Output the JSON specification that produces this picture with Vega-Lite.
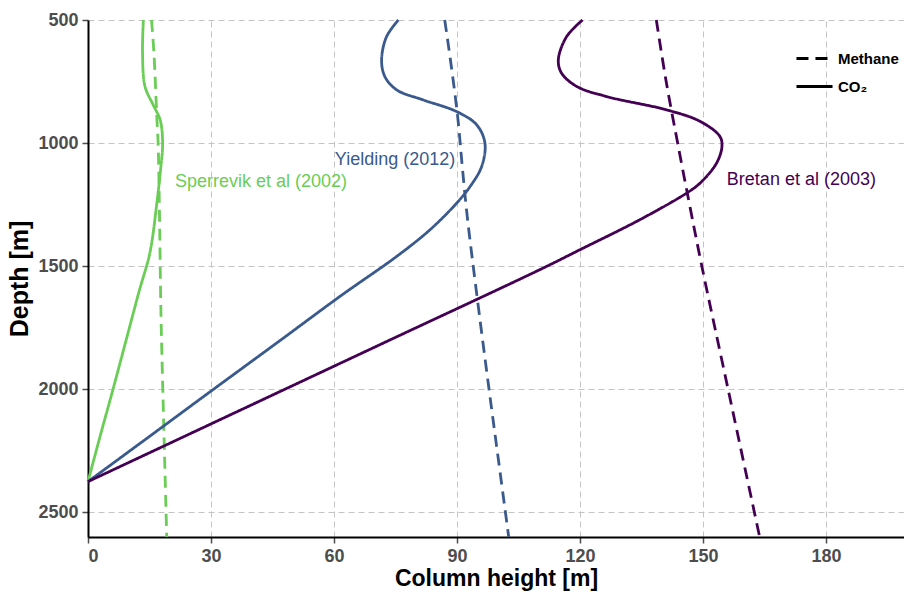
{
  "$schema": "https://vega.github.io/schema/vega-lite/v6.json",
  "width": 816,
  "height": 517,
  "autosize": {"type": "none"},
  "padding": {"left": 88, "top": 20, "right": 0, "bottom": 55},
  "background": "white",
  "config": {
    "font": "Liberation Sans",
    "view": {"stroke": null},
    "axis": {
      "labelFont": "Liberation Sans",
      "labelFontSize": 18,
      "labelFontWeight": "bold",
      "labelColor": "#4d4d4d",
      "titleFont": "Liberation Sans",
      "titleFontSize": 23,
      "titleFontWeight": "bold",
      "titleColor": "black",
      "domainColor": "black",
      "domainWidth": 2,
      "tickColor": "#4d4d4d",
      "tickSize": 6,
      "tickWidth": 1.5,
      "gridColor": "#c4c4c4",
      "gridDash": [6, 4],
      "gridWidth": 1,
      "labelPadding": 4,
      "titlePadding": 6
    }
  },
  "datasets": {
    "curves": [
      {"study": "Sperrevik et al (2002)", "gas": "CO₂", "depth": 500, "height": 13.5},
      {"study": "Sperrevik et al (2002)", "gas": "CO₂", "depth": 634, "height": 13.3},
      {"study": "Sperrevik et al (2002)", "gas": "CO₂", "depth": 770, "height": 13.9},
      {"study": "Sperrevik et al (2002)", "gas": "CO₂", "depth": 845, "height": 15.9},
      {"study": "Sperrevik et al (2002)", "gas": "CO₂", "depth": 906, "height": 17.6},
      {"study": "Sperrevik et al (2002)", "gas": "CO₂", "depth": 1000, "height": 18.2},
      {"study": "Sperrevik et al (2002)", "gas": "CO₂", "depth": 1108, "height": 17.7},
      {"study": "Sperrevik et al (2002)", "gas": "CO₂", "depth": 1242, "height": 16.8},
      {"study": "Sperrevik et al (2002)", "gas": "CO₂", "depth": 1445, "height": 15.1},
      {"study": "Sperrevik et al (2002)", "gas": "CO₂", "depth": 1600, "height": 12.5},
      {"study": "Sperrevik et al (2002)", "gas": "CO₂", "depth": 1800, "height": 9.3},
      {"study": "Sperrevik et al (2002)", "gas": "CO₂", "depth": 2000, "height": 6.1},
      {"study": "Sperrevik et al (2002)", "gas": "CO₂", "depth": 2200, "height": 2.8},
      {"study": "Sperrevik et al (2002)", "gas": "CO₂", "depth": 2375, "height": 0},
      {"study": "Sperrevik et al (2002)", "gas": "Methane", "depth": 500, "height": 15.5},
      {"study": "Sperrevik et al (2002)", "gas": "Methane", "depth": 640, "height": 16.1},
      {"study": "Sperrevik et al (2002)", "gas": "Methane", "depth": 900, "height": 16.8},
      {"study": "Sperrevik et al (2002)", "gas": "Methane", "depth": 1000, "height": 17.1},
      {"study": "Sperrevik et al (2002)", "gas": "Methane", "depth": 1250, "height": 17.4},
      {"study": "Sperrevik et al (2002)", "gas": "Methane", "depth": 1700, "height": 17.8},
      {"study": "Sperrevik et al (2002)", "gas": "Methane", "depth": 2100, "height": 18.4},
      {"study": "Sperrevik et al (2002)", "gas": "Methane", "depth": 2600, "height": 19.2},
      {"study": "Yielding (2012)", "gas": "CO₂", "depth": 500, "height": 75.7},
      {"study": "Yielding (2012)", "gas": "CO₂", "depth": 568, "height": 72.8},
      {"study": "Yielding (2012)", "gas": "CO₂", "depth": 662, "height": 71.6},
      {"study": "Yielding (2012)", "gas": "CO₂", "depth": 730, "height": 72.4},
      {"study": "Yielding (2012)", "gas": "CO₂", "depth": 784, "height": 75.3},
      {"study": "Yielding (2012)", "gas": "CO₂", "depth": 825, "height": 81.8},
      {"study": "Yielding (2012)", "gas": "CO₂", "depth": 872, "height": 89.9},
      {"study": "Yielding (2012)", "gas": "CO₂", "depth": 926, "height": 94.8},
      {"study": "Yielding (2012)", "gas": "CO₂", "depth": 1000, "height": 96.8},
      {"study": "Yielding (2012)", "gas": "CO₂", "depth": 1095, "height": 96.0},
      {"study": "Yielding (2012)", "gas": "CO₂", "depth": 1176, "height": 93.2},
      {"study": "Yielding (2012)", "gas": "CO₂", "depth": 1244, "height": 89.9},
      {"study": "Yielding (2012)", "gas": "CO₂", "depth": 1352, "height": 83.4},
      {"study": "Yielding (2012)", "gas": "CO₂", "depth": 1460, "height": 75.3},
      {"study": "Yielding (2012)", "gas": "CO₂", "depth": 1622, "height": 61.5},
      {"study": "Yielding (2012)", "gas": "CO₂", "depth": 1800, "height": 47.0},
      {"study": "Yielding (2012)", "gas": "CO₂", "depth": 2000, "height": 30.6},
      {"study": "Yielding (2012)", "gas": "CO₂", "depth": 2200, "height": 14.3},
      {"study": "Yielding (2012)", "gas": "CO₂", "depth": 2375, "height": 0},
      {"study": "Yielding (2012)", "gas": "Methane", "depth": 500, "height": 87.0},
      {"study": "Yielding (2012)", "gas": "Methane", "depth": 700, "height": 88.7},
      {"study": "Yielding (2012)", "gas": "Methane", "depth": 900, "height": 90.2},
      {"study": "Yielding (2012)", "gas": "Methane", "depth": 1100, "height": 91.3},
      {"study": "Yielding (2012)", "gas": "Methane", "depth": 1300, "height": 92.5},
      {"study": "Yielding (2012)", "gas": "Methane", "depth": 1600, "height": 94.7},
      {"study": "Yielding (2012)", "gas": "Methane", "depth": 2000, "height": 97.8},
      {"study": "Yielding (2012)", "gas": "Methane", "depth": 2300, "height": 100.2},
      {"study": "Yielding (2012)", "gas": "Methane", "depth": 2600, "height": 102.6},
      {"study": "Bretan et al (2003)", "gas": "CO₂", "depth": 500, "height": 120.6},
      {"study": "Bretan et al (2003)", "gas": "CO₂", "depth": 568, "height": 116.7},
      {"study": "Bretan et al (2003)", "gas": "CO₂", "depth": 662, "height": 114.7},
      {"study": "Bretan et al (2003)", "gas": "CO₂", "depth": 716, "height": 115.5},
      {"study": "Bretan et al (2003)", "gas": "CO₂", "depth": 770, "height": 119.2},
      {"study": "Bretan et al (2003)", "gas": "CO₂", "depth": 811, "height": 126.5},
      {"study": "Bretan et al (2003)", "gas": "CO₂", "depth": 865, "height": 141.1},
      {"study": "Bretan et al (2003)", "gas": "CO₂", "depth": 912, "height": 149.3},
      {"study": "Bretan et al (2003)", "gas": "CO₂", "depth": 973, "height": 154.1},
      {"study": "Bretan et al (2003)", "gas": "CO₂", "depth": 1014, "height": 154.6},
      {"study": "Bretan et al (2003)", "gas": "CO₂", "depth": 1081, "height": 153.3},
      {"study": "Bretan et al (2003)", "gas": "CO₂", "depth": 1162, "height": 149.3},
      {"study": "Bretan et al (2003)", "gas": "CO₂", "depth": 1203, "height": 146.0},
      {"study": "Bretan et al (2003)", "gas": "CO₂", "depth": 1311, "height": 134.6},
      {"study": "Bretan et al (2003)", "gas": "CO₂", "depth": 1433, "height": 120.0},
      {"study": "Bretan et al (2003)", "gas": "CO₂", "depth": 1514, "height": 110.2},
      {"study": "Bretan et al (2003)", "gas": "CO₂", "depth": 1800, "height": 73.6},
      {"study": "Bretan et al (2003)", "gas": "CO₂", "depth": 2000, "height": 48.0},
      {"study": "Bretan et al (2003)", "gas": "CO₂", "depth": 2200, "height": 22.4},
      {"study": "Bretan et al (2003)", "gas": "CO₂", "depth": 2375, "height": 0},
      {"study": "Bretan et al (2003)", "gas": "Methane", "depth": 500, "height": 138.6},
      {"study": "Bretan et al (2003)", "gas": "Methane", "depth": 750, "height": 141.0},
      {"study": "Bretan et al (2003)", "gas": "Methane", "depth": 1000, "height": 143.8},
      {"study": "Bretan et al (2003)", "gas": "Methane", "depth": 1250, "height": 146.7},
      {"study": "Bretan et al (2003)", "gas": "Methane", "depth": 1500, "height": 149.7},
      {"study": "Bretan et al (2003)", "gas": "Methane", "depth": 2000, "height": 156.1},
      {"study": "Bretan et al (2003)", "gas": "Methane", "depth": 2600, "height": 163.8}
    ],
    "labels": [
      {"study": "Sperrevik et al (2002)", "depth": 1156, "height": 21.2},
      {"study": "Yielding (2012)", "depth": 1068, "height": 60.2},
      {"study": "Bretan et al (2003)", "depth": 1150, "height": 155.8}
    ]
  },
  "layer": [
    {
      "data": {"name": "curves"},
      "mark": {"type": "line", "interpolate": "catmull-rom", "strokeWidth": 2.8},
      "encoding": {
        "x": {
          "field": "height", "type": "quantitative",
          "scale": {"domain": [0, 199], "nice": false, "zero": false},
          "axis": {"values": [0, 30, 60, 90, 120, 150, 180], "title": "Column height [m]", "titlePadding": 2, "titleFontSize": 23}
        },
        "y": {
          "field": "depth", "type": "quantitative",
          "scale": {"domain": [500, 2600], "reverse": true, "nice": false, "zero": false},
          "axis": {"values": [500, 1000, 1500, 2000, 2500], "format": "d", "title": "Depth [m]", "titleFontSize": 25, "titlePadding": 5}
        },
        "color": {
          "field": "study", "type": "nominal",
          "scale": {
            "domain": ["Sperrevik et al (2002)", "Yielding (2012)", "Bretan et al (2003)"],
            "range": ["#6acd55", "#3a5a8e", "#440154"]
          },
          "legend": null
        },
        "strokeDash": {
          "field": "gas", "type": "nominal",
          "scale": {"domain": ["Methane", "CO₂"], "range": [[12, 7], [1, 0]]},
          "legend": {
            "orient": "none",
            "legendX": 707,
            "legendY": 19,
            "title": null,
            "symbolType": "stroke",
            "symbolStrokeWidth": 2.8,
            "symbolSize": 1300,
            "symbolStrokeColor": "black",
            "labelFontSize": 15,
            "labelFontWeight": "bold",
            "labelColor": "black",
            "labelFont": "Liberation Sans",
            "labelOffset": 4,
            "rowPadding": -10
          }
        },
        "order": {"field": "depth", "type": "quantitative"}
      }
    },
    {
      "data": {"name": "labels"},
      "mark": {"type": "text", "align": "left", "baseline": "middle", "fontSize": 18, "font": "Liberation Sans"},
      "encoding": {
        "x": {"field": "height", "type": "quantitative"},
        "y": {"field": "depth", "type": "quantitative"},
        "text": {"field": "study"},
        "color": {"field": "study", "type": "nominal", "legend": null}
      }
    }
  ]
}
